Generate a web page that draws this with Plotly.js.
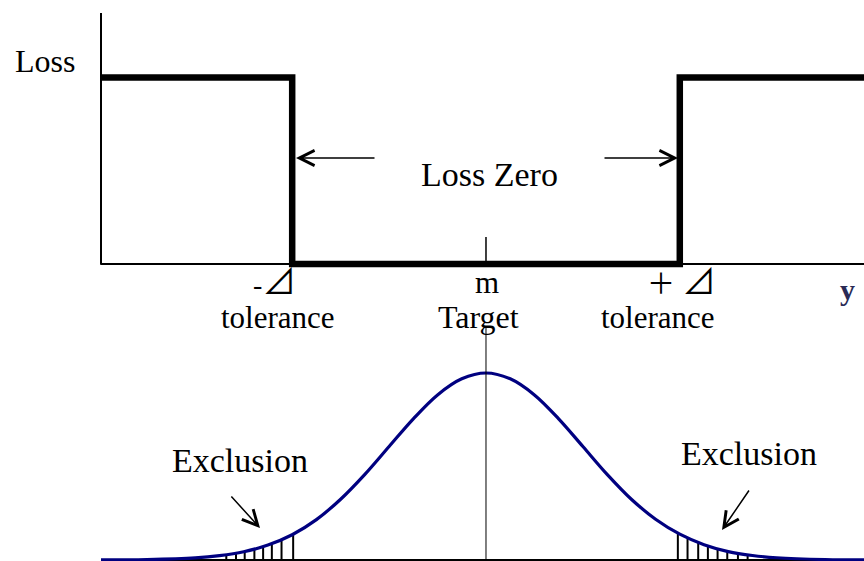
<!DOCTYPE html>
<html><head><meta charset="utf-8">
<script src="https://cdn.plot.ly/plotly-3.0.1.min.js"></script>
<style>html,body{margin:0;padding:0;background:#fff;}</style>
</head><body><div id="chart" style="width:864px;height:561px;"></div>
<script>
// x in units where target m = 0 and the tolerance limits are at -2 / +2
const stepX = [-3.973, -2, -2, 2, 2, 3.901];
const lossY = [1, 1, 0, 0, 1, 1];
const target = 0;
const targetTick = 0.145;
const targetLineTop = 1.246;

// distribution curve, relative height (peak = 1)
const curveX = [-3.973, -3.5, -3.0, -2.75, -2.5, -2.25, -2.0, -1.75, -1.5, -1.25, -1.0, -0.75, -0.5, -0.25, 0,
                0.25, 0.5, 0.75, 1.0, 1.25, 1.5, 1.75, 2.0, 2.25, 2.5, 2.75, 3.0, 3.5, 3.901];
const curveY = [0.0004, 0.0022, 0.011, 0.023, 0.044, 0.080, 0.135, 0.216, 0.325, 0.458, 0.607, 0.755, 0.883, 0.969, 1.0,
                0.969, 0.883, 0.755, 0.607, 0.458, 0.325, 0.218, 0.138, 0.082, 0.045, 0.024, 0.012, 0.0024, 0.0005];

// exclusion hatching (left and right tails)
const hatchLeftX = [-2.68, -2.58, -2.49, -2.39, -2.30, -2.21, -2.11, -1.99];
const hatchLeftH = [0.028, 0.036, 0.045, 0.058, 0.071, 0.087, 0.108, 0.138];
const hatchRightX = [1.98, 2.08, 2.19, 2.29, 2.39, 2.49, 2.60, 2.70];
const hatchRightH = [0.141, 0.115, 0.091, 0.073, 0.058, 0.045, 0.034, 0.026];

function pairs(xs, hs) {
  const x = [], y = [];
  xs.forEach((v, i) => { x.push(v, v, null); y.push(0, hs[i], null); });
  return {x, y};
}
const hl = pairs(hatchLeftX, hatchLeftH);
const hr = pairs(hatchRightX, hatchRightH);

const serif = '"Liberation Serif", "Times New Roman", "Noto Sans CJK JP", serif';
const W = 864, H = 561, L = 101;
const px = v => (v - L) / (W - L);
const py = v => (H - v) / H;

const traces = [
  {x: hl.x, y: hl.y, xaxis: 'x', yaxis: 'y2', mode: 'lines', line: {color: '#000', width: 2}, hoverinfo: 'skip'},
  {x: hr.x, y: hr.y, xaxis: 'x', yaxis: 'y2', mode: 'lines', line: {color: '#000', width: 2}, hoverinfo: 'skip'},
  {x: curveX, y: curveY, xaxis: 'x', yaxis: 'y2', mode: 'lines', line: {color: '#000080', width: 3.2, shape: 'spline', smoothing: 1}},
  {x: stepX, y: lossY, xaxis: 'x', yaxis: 'y', mode: 'lines', line: {color: '#000', width: 6.5}}
];

function txt(text, x, y, size) {
  return {text, x, y, xref: 'paper', yref: 'paper', showarrow: false,
          xanchor: 'center', yanchor: 'middle', font: {family: serif, size, color: '#000'}};
}
function arrow(tipX, tipY, ax, ay) {
  return {text: '', x: px(tipX), y: py(tipY), xref: 'paper', yref: 'paper', showarrow: true,
          ax, ay, axref: 'pixel', ayref: 'pixel', arrowhead: 5, arrowsize: 2, arrowwidth: 1.5,
          arrowcolor: '#000', standoff: 0, startstandoff: 0, font: {size: 1}};
}
const sp = (fs, t) => '<span style="font-size:' + fs + 'px">' + t + '</span>';
const tri = sp(34, '⊿');

const layout = {
  width: W, height: H, margin: {l: L, r: 0, t: 0, b: 0},
  paper_bgcolor: '#fff', plot_bgcolor: 'rgba(0,0,0,0)', showlegend: false,
  xaxis: {range: [-3.973, 3.901], showgrid: false, zeroline: false, showticklabels: false, ticks: '', showline: false},
  yaxis: {domain: [0.5187, 0.9768], range: [-0.0322, 1.3458], showgrid: false, zeroline: true,
          zerolinecolor: '#000', zerolinewidth: 2, showticklabels: false, ticks: '', showline: false},
  yaxis2: {domain: [0, 0.4171], range: [-0.00535, 1.246], anchor: 'x', showgrid: false, zeroline: true,
           zerolinecolor: '#000', zerolinewidth: 2, showticklabels: false, ticks: '', showline: false},
  shapes: [
    {type: 'line', xref: 'x domain', yref: 'y', x0: 0, x1: 0, y0: -0.004, y1: 1.3458, line: {color: '#000', width: 2}},
    {type: 'line', xref: 'x', yref: 'y', x0: target, x1: target, y0: 0, y1: targetTick, line: {color: '#000', width: 1.5}},
    {type: 'line', xref: 'x', yref: 'y2', x0: target, x1: target, y0: 0, y1: targetLineTop, line: {color: '#000', width: 1}}
  ],
  annotations: [
    txt('Loss', px(45), py(61), 32),
    txt('Loss Zero', px(490), py(175), 34),
    txt('-' + tri, px(274), py(283), 28),
    txt('tolerance', px(278), py(317), 31),
    txt('m', px(487), py(283), 31),
    txt('Target', px(478), py(317), 32),
    txt('＋&nbsp;' + tri, px(681), py(283), 28),
    txt('tolerance', px(658), py(317), 31),
    txt('Exclusion', px(240), py(460), 34),
    txt('Exclusion', px(749), py(453), 34),
    {text: '<b>y</b>', x: px(847), y: py(290), xref: 'paper', yref: 'paper', showarrow: false,
     xanchor: 'center', yanchor: 'middle', font: {family: serif, size: 30, color: '#2a2a55'}},
    arrow(296, 158, 80, 0),
    arrow(678, 158, -75, 0),
    arrow(260, 528, -30, -33),
    arrow(722, 530, 28, -41)
  ]
};

Plotly.newPlot('chart', traces, layout, {staticPlot: true, displayModeBar: false});
</script></body></html>
